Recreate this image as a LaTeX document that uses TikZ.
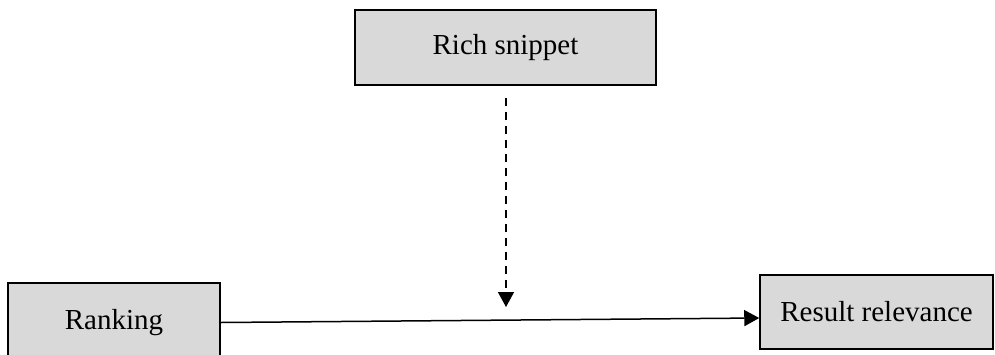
\documentclass[tikz,border=0pt]{standalone}
\usepackage{fontspec}
\setmainfont{Liberation Serif}
\usetikzlibrary{arrows.meta}
\definecolor{boxgray}{HTML}{D9D9D9}
\begin{document}
\begin{tikzpicture}[x=1pt,y=-1pt,
  box/.style={draw=black, line width=1.5pt, fill=boxgray, inner sep=0pt, font=\fontsize{29}{34}\selectfont},
  conn/.style={line width=1.5pt, -{Triangle[length=15pt,width=16pt]}}]
\useasboundingbox (0,0) rectangle (995,354);
\clip (0,0) rectangle (995,354);
\node[box, minimum width=301pt, minimum height=75pt] (snip) at (505.5,47.5) {Rich snippet};
\node[box, minimum width=212pt, minimum height=79pt] (rank) at (114,322.5) {Ranking};
\node[box, minimum width=233pt, minimum height=74pt] (rel) at (876.5,312) {Result relevance};
\coordinate (tip) at (506,307);
\coordinate (dstart) at (506,98);
\draw[conn] (rank.east) -- ([yshift=-6pt]rel.west);
\draw[conn, dash pattern=on 8pt off 6pt] (dstart) -- (tip);
\end{tikzpicture}
\end{document}
